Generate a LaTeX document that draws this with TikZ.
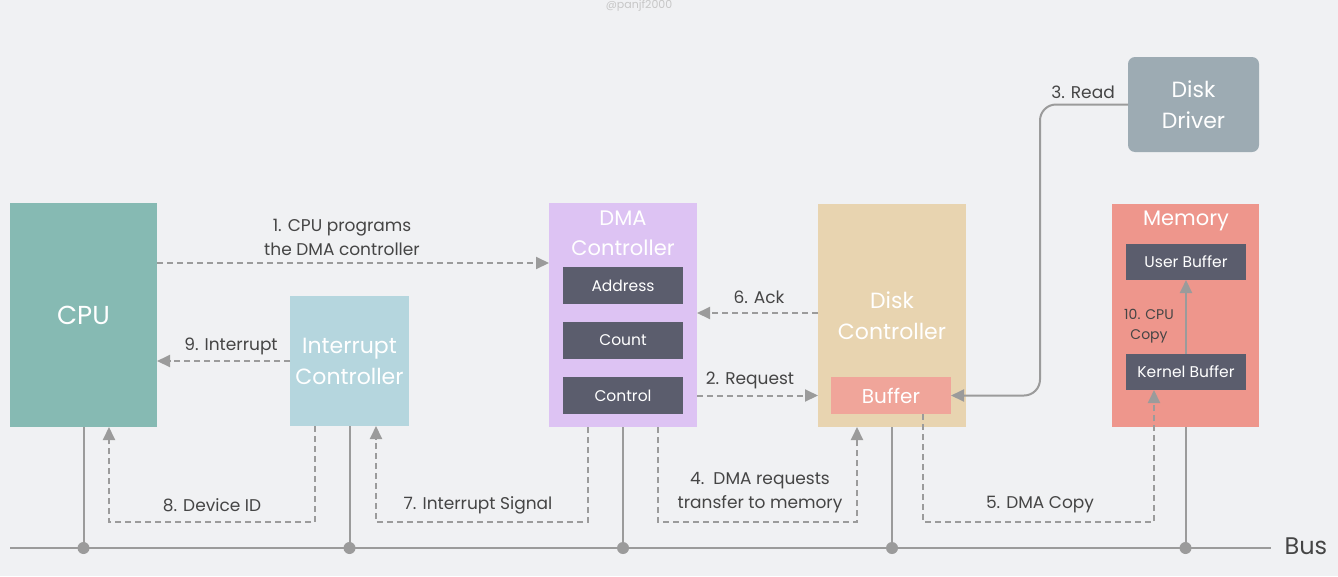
\documentclass[tikz,border=0pt]{standalone}
\usepackage{fontspec}
\setmainfont{Poppins}
\usetikzlibrary{arrows.meta,calc}

\definecolor{bgcol}{HTML}{F0F1F3}
\definecolor{cpucol}{HTML}{86BAB3}
\definecolor{intcol}{HTML}{B5D6DE}
\definecolor{dmacol}{HTML}{DDC3F3}
\definecolor{diskcol}{HTML}{E8D4B0}
\definecolor{bufcol}{HTML}{F0A59A}
\definecolor{drvcol}{HTML}{9DABB3}
\definecolor{memcol}{HTML}{EE968C}
\definecolor{regcol}{HTML}{5B5D6D}
\definecolor{linecol}{HTML}{9B9B9B}
\definecolor{labelcol}{HTML}{454545}

\tikzset{
  unitbox/.style={anchor=north west, inner sep=0pt, outer sep=0pt, text=white, align=center,
    font=\fontsize{22}{31}\selectfont},
  regbox/.style={fill=regcol, anchor=north west, inner sep=0pt, outer sep=0pt,
    minimum width=120pt, minimum height=37pt, text=white, font=\fontsize{15.5}{18}\selectfont},
  flow/.style={draw=linecol, line width=2pt, dash pattern=on 6pt off 4pt,
    -{Triangle[length=13pt,width=12pt]}},
  wire/.style={draw=linecol, line width=2pt},
  busdot/.style={circle, fill=linecol, inner sep=0pt, minimum size=12pt},
  steplabel/.style={text=labelcol, font=\fontsize{17}{24}\selectfont, align=center},
}

\begin{document}
\begin{tikzpicture}[x=1pt,y=-1pt]
  \fill[bgcol] (0,0) rectangle (1338,576);
  \useasboundingbox (0,0) rectangle (1338,576);

  % Marking watermark
  \node[text=black!22, font=\fontsize{11}{13}\selectfont] (mark) at (639,6) {@panjf2000};

  % Drawing the units
  \node[unitbox, fill=cpucol, minimum width=147pt, minimum height=224pt,
    font=\fontsize{26}{30}\selectfont] (cpu) at (10,203) {CPU};
  \node[unitbox, fill=intcol, minimum width=119pt, minimum height=130pt] (intc) at (290,296)
    {Interrupt\\Controller};
  \node[unitbox, fill=dmacol, minimum width=148pt, minimum height=224pt] (dma) at (549,203) {};
  \node[unitbox, fill=diskcol, minimum width=148pt, minimum height=223pt] (diskc) at (818,204)
    {Disk\\Controller};
  \node[unitbox, fill=drvcol, rounded corners=7pt, minimum width=131pt, minimum height=95pt]
    (driver) at (1128,57) {Disk\\Driver};
  \node[unitbox, fill=memcol, minimum width=147pt, minimum height=223pt] (mem) at (1112,204) {};

  % Marking unit titles
  \node[text=white, align=center, font=\fontsize{21}{30}\selectfont] (dmatitle) at (623,233)
    {DMA\\Controller};
  \node[text=white, font=\fontsize{21}{26}\selectfont] (memtitle) at (1186,221) {Memory};

  % Drawing the registers and buffers
  \node[regbox] (addr) at (563,267) {Address};
  \node[regbox] (count) at (563,322) {Count};
  \node[regbox] (ctrl) at (563,377) {Control};
  \node[regbox, fill=bufcol, font=\fontsize{20}{22}\selectfont] (buffer) at (831,377) {Buffer};
  \node[regbox, minimum height=36pt] (ubuf) at (1126,244) {User Buffer};
  \node[regbox, minimum height=36pt] (kbuf) at (1126,354) {Kernel Buffer};

  % Drawing the bus
  \coordinate (busL) at (10,548);
  \coordinate (busR) at (1271,548);
  \draw[wire] (busL) -- (busR);
  \node[anchor=west, text=labelcol, font=\fontsize{24}{28}\selectfont] (bus) at (1281,546) {Bus};
  \foreach \n in {cpu,intc,dma,diskc,mem}
    \draw[wire] (\n.south) -- (\n.south |- busL) node[busdot] {};

  % Drawing steps 1, 2, 6, 9
  \draw[flow] (cpu.east |- 0,263) -- (dma.west |- 0,263);
  \draw[flow] (dma.east |- ctrl.east) -- (diskc.west |- ctrl.east);
  \draw[flow] (diskc.west |- 0,313) -- (dma.east |- 0,313);
  \draw[flow] (intc.west) -- (cpu.east |- intc.west);

  % Drawing step 3
  \draw[wire, rounded corners=16pt, -{Triangle[length=13pt,width=12pt]}]
    (driver.west) -- (1040,104.5) |- (buffer.east);

  % Drawing step 10
  \draw[wire, -{Triangle[length=13pt,width=12pt]}] (kbuf.north) -- (ubuf.south);

  % Drawing steps 4, 5, 7, 8
  \draw[flow] (intc.south -| 315,0) |- (109,522) -- (cpu.south -| 109,0);
  \draw[flow] (dma.south -| 588,0) |- (376,522) -- (intc.south -| 376,0);
  \draw[flow] (dma.south -| 658,0) |- (857,522) -- (diskc.south -| 857,0);
  \draw[flow] (buffer.south -| 923,0) |- (1154,522) -- (kbuf.south -| 1154,0);

  % Marking step labels
  \node[steplabel] (l1) at (342,237) {1. CPU programs\\the DMA controller};
  \node[steplabel] (l2) at (750,380) {2. Request};
  \node[steplabel] (l3) at (1083,92) {3. Read};
  \node[steplabel] (l4) at (760,493) {4.\ \ DMA requests\\transfer to memory};
  \node[steplabel] (l5) at (1040,505) {5. DMA Copy};
  \node[steplabel] (l6) at (759,297) {6. Ack};
  \node[steplabel] (l7) at (478,505) {7. Interrupt Signal};
  \node[steplabel] (l8) at (212,505) {8. Device ID};
  \node[steplabel] (l9) at (231,346) {9. Interrupt};
  \node[steplabel, font=\fontsize{14}{20}\selectfont] (l10) at (1149,326) {10. CPU\\Copy};
\end{tikzpicture}
\end{document}
